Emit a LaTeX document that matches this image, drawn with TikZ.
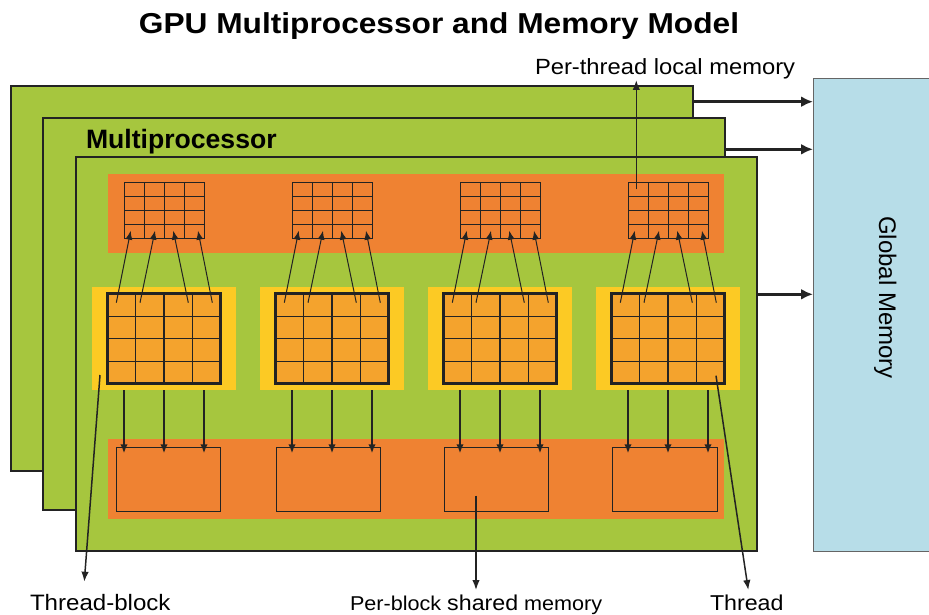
\documentclass[tikz,border=0pt]{standalone}
\usepackage{fontspec}
\setmainfont{Liberation Sans}
\newfontfamily\lblfont[FakeStretch=1.08]{Liberation Sans}
\newfontfamily\ttlfont[FakeStretch=1.1]{Liberation Sans}
\usetikzlibrary{arrows.meta}
\definecolor{pgreen}{RGB}{166,198,62}
\definecolor{porange}{RGB}{239,130,50}
\definecolor{pyellow}{RGB}{252,202,36}
\definecolor{pamber}{RGB}{244,163,45}
\definecolor{gblue}{RGB}{183,221,232}
\definecolor{ink}{RGB}{35,35,35}
\begin{document}
\begin{tikzpicture}[x=1pt,y=-1pt,
  box/.style={anchor=north west,inner sep=0pt,outer sep=0pt},
  panel/.style={box,draw=ink,line width=2pt,fill=pgreen},
  band/.style={box,fill=porange},
  smallgrid/.style={box,draw=ink,line width=1.1pt,minimum width=80.4pt,minimum height=56.4pt},
  ybox/.style={box,fill=pyellow,minimum width=144pt,minimum height=103.3pt},
  tgrid/.style={box,fill=pamber,minimum width=113.4pt,minimum height=90pt},
  sbox/.style={box,draw=ink,line width=0.9pt,minimum width=104.4pt,minimum height=64pt},
  txt/.style={inner sep=0pt,outer sep=0pt},
  uparrow/.style={draw=ink,line width=1pt,-{Latex[length=9pt,width=7pt]}},
  dnarrow/.style={draw=ink,line width=1.8pt,-{Latex[length=9pt,width=7.5pt]}},
  gmarrow/.style={draw=ink,line width=3pt,-{Latex[length=12pt,width=11pt]}},
  annarrow/.style={draw=ink,line width=1.5pt,-{Latex[length=10pt,width=7.5pt]}}
]
\useasboundingbox (0,0) rectangle (929,615);

% title
\node[txt,anchor=base] (title) at (439,33.3)
  {\ttlfont\bfseries\fontsize{28.8}{30}\selectfont GPU Multiprocessor and Memory Model};

% global memory
\node[box,draw=ink!70,line width=1pt,fill=gblue,minimum width=118pt,minimum height=472.7pt] (gm) at (813,78.3) {};
\node[txt,rotate=-90,anchor=base] (gmlabel) at (879,297.5)
  {\fontsize{24}{26}\selectfont Global Memory};

% panels
\node[panel,minimum width=682pt,minimum height=384.7pt] (back) at (11,86) {};
\node[panel,minimum width=682pt,minimum height=392pt] (mid) at (43,118) {};
\node[panel,minimum width=681.5pt,minimum height=393.5pt] (front) at (75.5,157.5) {};
\node[txt,anchor=base west] (mplabel) at (86,149)
  {\bfseries\fontsize{26.6}{28}\selectfont Multiprocessor};

% arrows to global memory
\path ([shift={(0,15.7)}]back.north east) coordinate (ga1);
\path ([shift={(0,31.3)}]mid.north east) coordinate (ga2);
\path ([shift={(0,136.8)}]front.north east) coordinate (ga3);
\draw[gmarrow] (ga1) -- (ga1 -| gm.west);
\draw[gmarrow] (ga2) -- (ga2 -| gm.west);
\draw[gmarrow] (ga3) -- (ga3 -| gm.west);

% memory bands
\node[band,minimum width=616pt,minimum height=79.3pt] (topband) at (108,174) {};
\node[band,minimum width=616pt,minimum height=79.7pt] (botband) at (108,439) {};

% blocks
\foreach \i/\bx in {0/116.3,1/276.3,2/444.3,3/612.7}{
  \pgfmathsetmacro\sx{124.3+168*\i}
  \pgfmathsetmacro\yx{92+168*\i}
  \pgfmathsetmacro\tx{107.3+168*\i}
  % small local-memory grid
  \node[smallgrid] (sg\i) at (\sx,182.3) {};
  \foreach \k in {1,2,3}{
    \draw[ink,line width=1.1pt] ([shift={(20.1*\k,0)}]sg\i.north west) -- ([shift={(20.1*\k,0)}]sg\i.south west);
    \draw[ink,line width=0.8pt] ([shift={(0,14.1*\k)}]sg\i.north west) -- ([shift={(0,14.1*\k)}]sg\i.north east);
  }
  % thread block
  \node[ybox] (yb\i) at (\yx,286.7) {};
  \node[tgrid] (tg\i) at (\tx,293.7) {};
  \foreach \k in {1,2,3}{
    \draw[ink,line width=1.2pt] ([shift={(28.35*\k,0)}]tg\i.north west) -- ([shift={(28.35*\k,0)}]tg\i.south west);
    \draw[ink,line width=1.2pt] ([shift={(0,22.5*\k)}]tg\i.north west) -- ([shift={(0,22.5*\k)}]tg\i.north east);
  }
  \draw[ink,line width=3pt] (tg\i.north west) rectangle (tg\i.south east);
  % shared memory box
  \node[sbox] (sb\i) at (\bx,447.3) {};
  % arrows thread -> local memory
  \draw[uparrow] ([shift={(9,9)}]tg\i.north west) -- ([shift={(6.4,48.4)}]sg\i.north west);
  \draw[uparrow] ([shift={(32.7,9)}]tg\i.north west) -- ([shift={(30.7,48.4)}]sg\i.north west);
  \draw[uparrow] ([shift={(81,9)}]tg\i.north west) -- ([shift={(49,48.4)}]sg\i.north west);
  \draw[uparrow] ([shift={(105,9)}]tg\i.north west) -- ([shift={(73.7,48.4)}]sg\i.north west);
  % arrows block -> shared memory
  \foreach \d/\off in {a/32,b/72,c/112}{
    \path ([shift={(\off,0)}]yb\i.south west) coordinate (dn\i\d);
    \draw[dnarrow,shorten >=-6pt] (dn\i\d) -- (dn\i\d |- sb\i.north);
  }
}

% labels
\node[txt,anchor=base west] (ptl) at (535,75)
  {\lblfont\fontsize{22}{24}\selectfont Per-thread local memory};
\node[txt,anchor=base west] (tbl) at (30,610)
  {\lblfont\fontsize{22.3}{24}\selectfont Thread-block};
\node[txt,anchor=base west] (pbl) at (350,610)
  {\lblfont\fontsize{20}{24}\selectfont Per-block {\fontsize{21.5}{24}\selectfont shared} memory};
\node[txt,anchor=base west] (thl) at (710,610)
  {\lblfont\fontsize{21.5}{24}\selectfont Thread};

% annotation arrows
\draw[annarrow] ([shift={(8,7)}]sg3.north west) -- ([shift={(101.3,5)}]ptl.base west);
\draw[annarrow] ([shift={(8,88.3)}]yb0.north west) -- ([shift={(54.3,-28.3)}]tbl.base west);
\draw[annarrow] ([shift={(31.7,48.4)}]sb2.north west) -- ([shift={(126,-20)}]pbl.base west);
\draw[annarrow] ([shift={(104.7,82)}]tg3.north west) -- ([shift={(38.3,-20)}]thl.base west);
\end{tikzpicture}
\end{document}
